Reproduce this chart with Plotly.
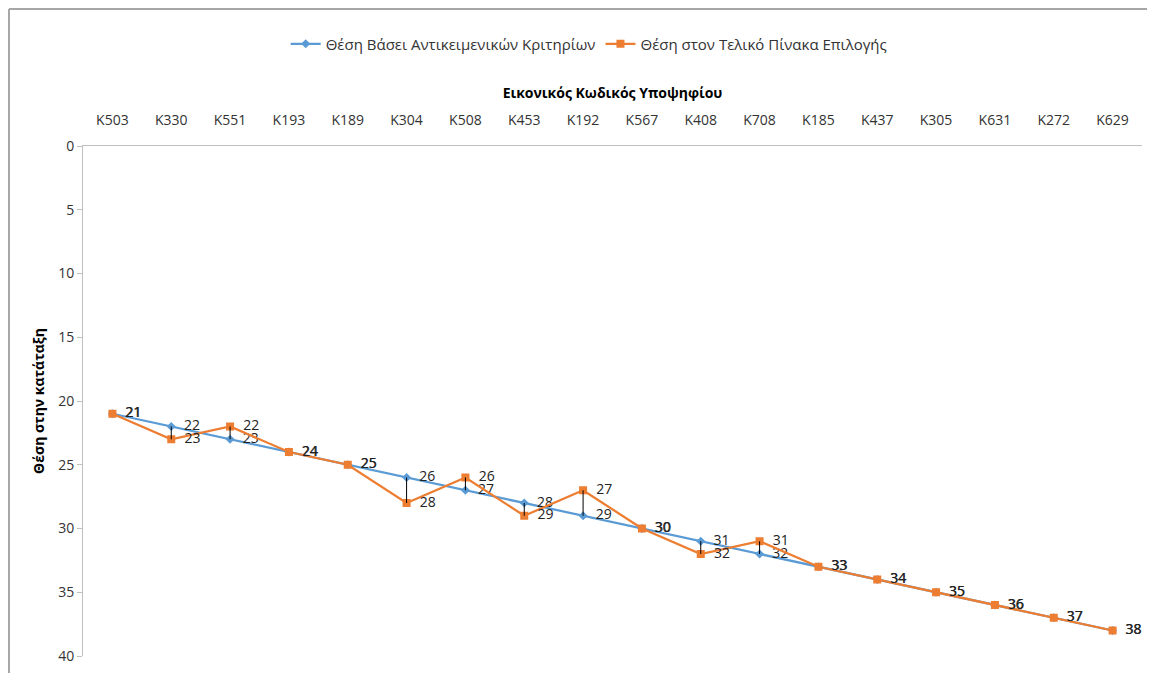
import plotly.graph_objects as go

categories = ["K503", "K330", "K551", "K193", "K189", "K304", "K508", "K453", "K192",
              "K567", "K408", "K708", "K185", "K437", "K305", "K631", "K272", "K629"]
objective_rank = [21, 22, 23, 24, 25, 26, 27, 28, 29, 30, 31, 32, 33, 34, 35, 36, 37, 38]
final_rank = [21, 23, 22, 24, 25, 28, 26, 29, 27, 30, 32, 31, 33, 34, 35, 36, 37, 38]

name_obj = "Θέση Βάσει Αντικειμενικών Κριτηρίων"
name_fin = "Θέση στον Τελικό Πίνακα Επιλογής"

FONT = "Open Sans, sans-serif"
BLUE = "#5B9BD5"
ORANGE = "#ED7D31"

# high-low lines between the two series
hl_x, hl_y = [], []
for c, a, b in zip(categories, objective_rank, final_rank):
    if a != b:
        hl_x += [c, c, None]
        hl_y += [a, b, None]

fig = go.Figure()
fig.add_trace(go.Scatter(
    x=categories, y=objective_rank, name=name_obj, mode="lines+markers+text",
    line=dict(color=BLUE, width=2.25),
    marker=dict(symbol="diamond", size=7, color=BLUE),
    text=["  " + str(v) for v in objective_rank], textposition="middle right",
    textfont=dict(family=FONT, size=14, color="#222222")))
fig.add_trace(go.Scatter(
    x=categories, y=final_rank, name=name_fin, mode="lines+markers+text",
    line=dict(color=ORANGE, width=2.25),
    marker=dict(symbol="square", size=8, color=ORANGE),
    text=["  " + str(v) for v in final_rank], textposition="middle right",
    textfont=dict(family=FONT, size=14, color="#222222")))
fig.add_trace(go.Scatter(
    x=hl_x, y=hl_y, mode="lines", line=dict(color="#000000", width=1),
    showlegend=False, hoverinfo="skip"))

fig.update_layout(
    width=1155, height=673,
    margin=dict(l=75, r=21, t=138, b=25),
    paper_bgcolor="white", plot_bgcolor="white",
    font=dict(family=FONT, size=14, color="#333333"),
    legend=dict(orientation="h", x=0.478, xanchor="center", y=1.2, yanchor="middle",
                font=dict(family=FONT, size=15, color="#333333"),
                traceorder="normal"),
    xaxis=dict(
        type="category", categoryorder="array", categoryarray=categories,
        side="top", showgrid=False, showline=True, automargin=False,
        linecolor="#BFBFBF", linewidth=1, ticks="", ticklabelstandoff=14,
        tickfont=dict(family=FONT, size=14, color="#333333"),
        title=dict(text="<b>Εικονικός Κωδικός Υποψηφίου</b>", standoff=8,
                   font=dict(family=FONT, size=14, color="#000000")),
        range=[-0.5, 17.5], fixedrange=True),
    yaxis=dict(
        range=[40, 0], tickvals=[0, 5, 10, 15, 20, 25, 30, 35, 40],
        showgrid=False, zeroline=False, showline=True, linecolor="#BFBFBF",
        linewidth=1, ticks="outside", ticklen=5, tickcolor="#BFBFBF",
        automargin=False,
        tickfont=dict(family=FONT, size=14, color="#333333"),
        title=dict(text="<b>Θέση στην κατάταξη</b>", standoff=10,
                   font=dict(family=FONT, size=14, color="#000000"))),
    shapes=[
        dict(type="line", xref="paper", yref="paper", x0=-0.0699, x1=1.019,
             y0=1.2686, y1=1.2686, line=dict(color="#A6A6A6", width=2)),
        dict(type="line", xref="paper", yref="paper", x0=-0.0699, x1=-0.0699,
             y0=1.2686, y1=-0.048, line=dict(color="#A6A6A6", width=2)),
    ],
)

fig.write_html("out.html")
